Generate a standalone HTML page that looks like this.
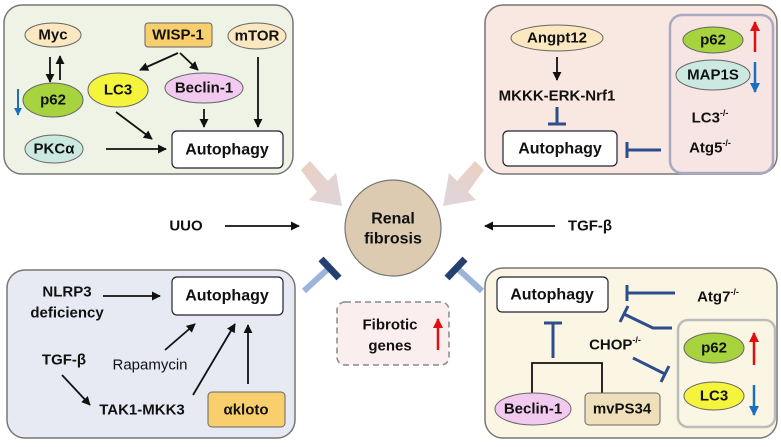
<!DOCTYPE html>
<html><head><meta charset="utf-8"><style>
html,body{margin:0;padding:0;background:#fff;}
svg{display:block;}
text{font-family:"Liberation Sans",Arial,sans-serif;font-weight:bold;fill:#111;text-anchor:middle;dominant-baseline:central;}
</style></head><body>
<svg width="781" height="447" viewBox="0 0 781 447" xmlns="http://www.w3.org/2000/svg">
<defs>
<marker id="a" viewBox="0 0 10 10" refX="9" refY="5" markerWidth="5" markerHeight="5" orient="auto"><path d="M0,0L10,5L0,10z" fill="#111"/></marker>
<marker id="r" viewBox="0 0 10 10" refX="9" refY="5" markerWidth="4" markerHeight="4" orient="auto"><path d="M0,0L10,5L0,10z" fill="#e01010"/></marker>
<marker id="b" viewBox="0 0 10 10" refX="9" refY="5" markerWidth="4" markerHeight="4" orient="auto"><path d="M0,0L10,5L0,10z" fill="#1a70c0"/></marker>
<linearGradient id="g1" x1="0" y1="0" x2="1" y2="1"><stop offset="0" stop-color="#ebcfbf"/><stop offset="1" stop-color="#ddd6de"/></linearGradient>
<linearGradient id="g2" x1="1" y1="0" x2="0" y2="1"><stop offset="0" stop-color="#ebcfbf"/><stop offset="1" stop-color="#ddd6de"/></linearGradient>
</defs>
<g font-size="15">
<!-- top-left panel -->
<rect x="4" y="5" width="289" height="169" rx="18" fill="#eef3e5" stroke="#777" stroke-width="1.5"/>
<ellipse cx="53" cy="35" rx="28" ry="12" fill="#fbe8c0" stroke="#666"/>
<text x="53" y="35">Myc</text>
<rect x="145" y="23" width="67" height="24" rx="3" fill="#f8cf6c" stroke="#666"/>
<text x="178" y="35">WISP-1</text>
<ellipse cx="257" cy="36" rx="29" ry="13" fill="#fbe8c0" stroke="#666"/>
<text x="257" y="36">mTOR</text>
<ellipse cx="53" cy="100" rx="30" ry="17" fill="#a6d33e" stroke="#666"/>
<text x="53" y="100">p62</text>
<ellipse cx="118" cy="90" rx="30" ry="17" fill="#f4f43c" stroke="#666"/>
<text x="118" y="90">LC3</text>
<ellipse cx="204" cy="88" rx="39" ry="15" fill="#f2caf0" stroke="#666"/>
<text x="204" y="88">Beclin-1</text>
<ellipse cx="54" cy="149" rx="29" ry="14" fill="#cbe9e1" stroke="#666"/>
<text x="54" y="149">PKCα</text>
<rect x="172" y="131" width="111" height="37" rx="5" fill="#fff" stroke="#223" stroke-width="1.2"/>
<text x="227" y="150" font-size="16">Autophagy</text>
<g stroke="#111" stroke-width="1.8" fill="none" marker-end="url(#a)">
<line x1="50" y1="57" x2="50" y2="82"/><line x1="60" y1="80" x2="60" y2="56"/>
<line x1="178" y1="53" x2="140" y2="70"/><line x1="180" y1="53" x2="198" y2="70"/>
<line x1="116" y1="112" x2="152" y2="139"/><line x1="204" y1="109" x2="204" y2="127"/>
<line x1="258" y1="57" x2="258" y2="127"/><line x1="106" y1="149" x2="166" y2="149"/>
</g>
<line x1="18" y1="89" x2="18" y2="115" stroke="#1a70c0" stroke-width="2" marker-end="url(#b)"/>

<!-- top-right panel -->
<rect x="485" y="5" width="292" height="169" rx="18" fill="#f9e7e1" stroke="#777" stroke-width="1.5"/>
<rect x="670" y="15" width="103" height="158" rx="12" fill="#f7e5e3" stroke="#a9a9c2" stroke-width="2.5"/>
<ellipse cx="557" cy="38" rx="46" ry="13" fill="#fbe8c0" stroke="#666"/>
<text x="557" y="38">Angpt12</text>
<line x1="557" y1="57" x2="557" y2="80" stroke="#111" stroke-width="1.8" marker-end="url(#a)"/>
<text x="557" y="96">MKKK-ERK-Nrf1</text>
<g stroke="#2e4d8c" stroke-width="3"><line x1="557" y1="107" x2="557" y2="124"/><line x1="548" y1="124" x2="566" y2="124"/>
<line x1="661" y1="150" x2="627" y2="150"/><line x1="627" y1="142" x2="627" y2="158"/></g>
<rect x="503" y="131" width="114" height="35" rx="5" fill="#fff" stroke="#223" stroke-width="1.2"/>
<text x="560" y="149" font-size="16">Autophagy</text>
<ellipse cx="713" cy="40" rx="30" ry="13" fill="#a6d33e" stroke="#666"/>
<text x="713" y="40">p62</text>
<ellipse cx="713" cy="75" rx="37" ry="15" fill="#cbe9e1" stroke="#666"/>
<text x="713" y="75">MAP1S</text>
<line x1="755" y1="52" x2="755" y2="22" stroke="#e01010" stroke-width="2.5" marker-end="url(#r)"/>
<line x1="755" y1="62" x2="755" y2="92" stroke="#1a70c0" stroke-width="2.5" marker-end="url(#b)"/>
<text x="710" y="118">LC3<tspan font-size="9" dy="-5">-/-</tspan></text>
<text x="710" y="148">Atg5<tspan font-size="9" dy="-5">-/-</tspan></text>

<!-- center -->
<polygon points="301,170 310,161 328,181 336,173 342,206 309,200 317,192" fill="url(#g1)"/>
<polygon points="484,170 475,161 457,181 449,173 443,206 476,200 468,192" fill="url(#g2)"/>
<circle cx="393" cy="228" r="48" fill="#dccab1" stroke="#777" stroke-width="1.2"/>
<text x="393" y="219" font-size="16">Renal</text>
<text x="393" y="239" font-size="16">fibrosis</text>
<text x="186" y="226">UUO</text>
<line x1="225" y1="226" x2="299" y2="226" stroke="#111" stroke-width="1.8" marker-end="url(#a)"/>
<text x="590" y="226">TGF-β</text>
<line x1="555" y1="226" x2="485" y2="226" stroke="#111" stroke-width="1.8" marker-end="url(#a)"/>
<line x1="304" y1="291" x2="329" y2="268" stroke="#9cb4dc" stroke-width="6"/>
<line x1="321" y1="259" x2="339" y2="278" stroke="#23406e" stroke-width="7"/>
<line x1="482" y1="291" x2="457" y2="268" stroke="#9cb4dc" stroke-width="6"/>
<line x1="465" y1="259" x2="447" y2="278" stroke="#23406e" stroke-width="7"/>
<rect x="337" y="302" width="112" height="63" rx="8" fill="#fbeeee" stroke="#888" stroke-width="1.5" stroke-dasharray="6,4"/>
<text x="390" y="325">Fibrotic</text>
<text x="390" y="346">genes</text>
<line x1="438" y1="350" x2="438" y2="319" stroke="#e01010" stroke-width="2.5" marker-end="url(#r)"/>

<!-- bottom-left -->
<rect x="7" y="270" width="288" height="168" rx="18" fill="#e7eaf2" stroke="#777" stroke-width="1.5"/>
<rect x="172" y="277" width="111" height="38" rx="5" fill="#fff" stroke="#223" stroke-width="1.2"/>
<text x="227" y="296" font-size="16">Autophagy</text>
<text x="67" y="292">NLRP3</text>
<text x="67" y="313">deficiency</text>
<text x="64" y="360">TGF-β</text>
<text x="150" y="365" style="font-weight:normal">Rapamycin</text>
<text x="142" y="410">TAK1-MKK3</text>
<rect x="208" y="392" width="77" height="35" rx="4" fill="#f8cf6c" stroke="#666"/>
<text x="246" y="410">αkloto</text>
<g stroke="#111" stroke-width="1.8" fill="none" marker-end="url(#a)">
<line x1="103" y1="296" x2="160" y2="296"/><line x1="62" y1="375" x2="90" y2="405"/>
<line x1="165" y1="350" x2="195" y2="324"/><line x1="193" y1="395" x2="235" y2="324"/>
<line x1="248" y1="384" x2="248" y2="325"/></g>

<!-- bottom-right -->
<rect x="485" y="268" width="292" height="170" rx="18" fill="#fbf6e4" stroke="#777" stroke-width="1.5"/>
<rect x="678" y="320" width="97" height="107" rx="10" fill="#fbf6e4" stroke="#bcbcbc" stroke-width="2.5"/>
<rect x="497" y="277" width="111" height="35" rx="5" fill="#fff" stroke="#223" stroke-width="1.2"/>
<text x="552" y="295" font-size="16">Autophagy</text>
<text x="718" y="297">Atg7<tspan font-size="9" dy="-5">-/-</tspan></text>
<text x="615" y="345">CHOP<tspan font-size="9" dy="-5">-/-</tspan></text>
<g stroke="#2e4d8c" stroke-width="3" fill="none">
<line x1="675" y1="293" x2="627" y2="293"/><line x1="627" y1="285" x2="627" y2="301"/>
<polyline points="672,328 653,328 624,314"/><line x1="628" y1="306" x2="620" y2="322"/>
<line x1="633" y1="358" x2="665" y2="374"/><line x1="669" y1="366" x2="661" y2="382"/>
<line x1="553" y1="358" x2="553" y2="323"/><line x1="544" y1="323" x2="562" y2="323"/>
</g>
<polyline points="532,393 532,363 602,363 602,393" fill="none" stroke="#111" stroke-width="1.8"/>
<ellipse cx="533" cy="409" rx="38" ry="16" fill="#f2caf0" stroke="#666"/>
<text x="533" y="409">Beclin-1</text>
<rect x="585" y="393" width="75" height="32" rx="4" fill="#efe0bb" stroke="#666"/>
<text x="622" y="409">mvPS34</text>
<ellipse cx="714" cy="348" rx="30" ry="15" fill="#a6d33e" stroke="#666"/>
<text x="714" y="348">p62</text>
<ellipse cx="714" cy="396" rx="30" ry="14" fill="#f4f43c" stroke="#666"/>
<text x="714" y="396">LC3</text>
<line x1="754" y1="365" x2="754" y2="333" stroke="#e01010" stroke-width="2.5" marker-end="url(#r)"/>
<line x1="754" y1="385" x2="754" y2="415" stroke="#1a70c0" stroke-width="2.5" marker-end="url(#b)"/>
</g>
</svg>
</body></html>
